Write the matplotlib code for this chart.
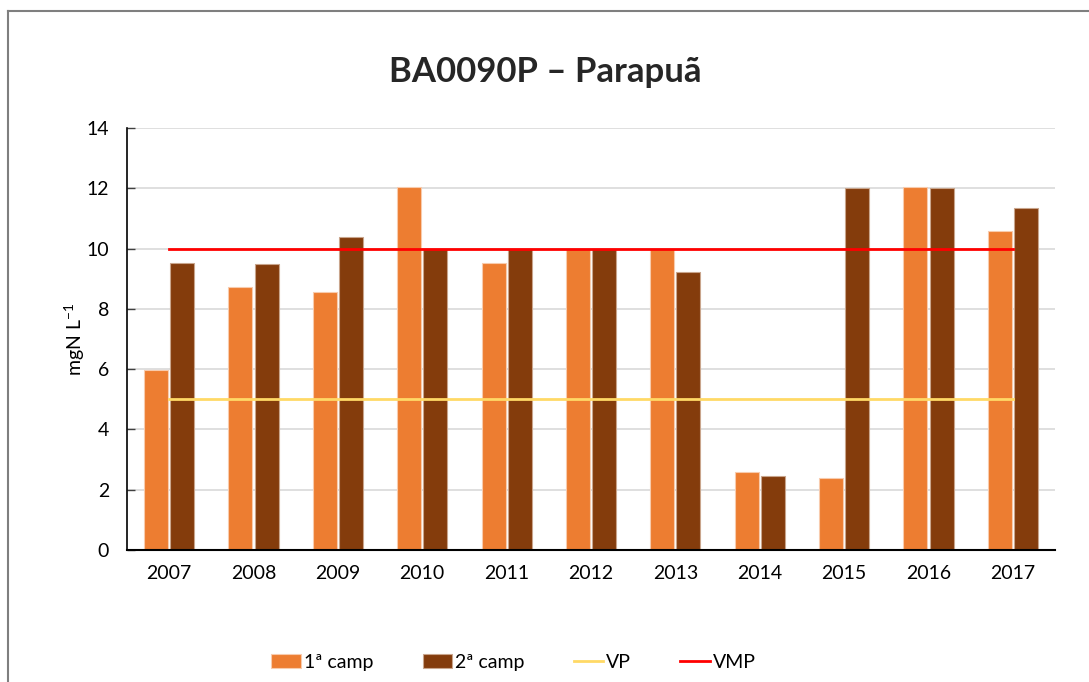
import matplotlib
matplotlib.use("Agg")
import matplotlib.pyplot as plt
import numpy as np
from matplotlib.lines import Line2D

plt.rcParams['font.family'] = ['Lato', 'DejaVu Sans']
plt.rcParams['mathtext.fontset'] = 'custom'
plt.rcParams['mathtext.rm'] = 'Lato'
plt.rcParams['mathtext.default'] = 'regular'

# Data
years = ['2007', '2008', '2009', '2010', '2011', '2012', '2013', '2014', '2015', '2016', '2017']
camp1 = [5.97, 8.74, 8.55, 12.03, 9.51, 10.0, 10.0, 2.60, 2.39, 12.03, 10.6]
camp2 = [9.53, 9.49, 10.40, 10.0, 10.0, 10.0, 9.23, 2.47, 12.0, 12.0, 11.33]
vp = [5] * len(years)
vmp = [10] * len(years)

c1_color = '#ED7D31'
c2_color = '#843C0C'

fig = plt.figure(figsize=(10.89, 6.82), dpi=100)
ax = fig.add_axes([0.1166, 0.1935, 0.8522, 0.6188])

x = np.arange(len(years))
w = 0.285
off = 0.155
b1 = ax.bar(x - off, camp1, width=w, color=c1_color, edgecolor='#F8CBAD', linewidth=0.8,
            label='1ª camp', zorder=2)
b2 = ax.bar(x + off, camp2, width=w, color=c2_color, edgecolor='#C9A58C', linewidth=0.8,
            label='2ª camp', zorder=2)
l1, = ax.plot(x, vp, color='#FFD966', linewidth=2.0, label='VP', zorder=3)
l2, = ax.plot(x, vmp, color='#FF0000', linewidth=2.0, label='VMP', zorder=3)

ax.set_xlim(-0.5, len(years) - 0.5)
ax.set_ylim(0, 14)
ax.set_yticks(range(0, 15, 2))
ax.set_xticks(x)
ax.set_xticklabels(years)
ax.tick_params(axis='x', length=0, pad=11, labelsize=14)
ax.tick_params(axis='y', direction='in', length=6, width=1, color='#404040', pad=13,
               labelsize=14)
ax.grid(axis='y', color='#D9D9D9', linewidth=1.2, zorder=0)
ax.set_axisbelow(True)
for s in ['top', 'right']:
    ax.spines[s].set_visible(False)
ax.spines['left'].set_color('black')
ax.spines['bottom'].set_color('black')
ax.spines['left'].set_linewidth(1.2)
ax.spines['bottom'].set_linewidth(1.5)

ax.set_ylabel('mgN L$^{-1}$', fontsize=14)
ax.yaxis.set_label_coords(-0.043, 0.5)

fig.text(0.5005, 0.894, 'BA0090P – Parapuã', ha='center', va='center',
         fontsize=25, fontweight='bold', color='#262626')

fig.legend(handles=[b1, b2, l1, l2], loc='center', bbox_to_anchor=(0.4715, 0.029), ncol=4,
           frameon=False, fontsize=14, handlelength=1.5, handleheight=0.7,
           handletextpad=0.15, columnspacing=2.55)

# outer chart frame (only top and left edges are visible in the crop)
fig.add_artist(Line2D([8 / 1089, 8 / 1089], [0, 1 - 11 / 682], transform=fig.transFigure,
                      color='#7F7F7F', linewidth=1.5))
fig.add_artist(Line2D([8 / 1089, 1], [1 - 11 / 682, 1 - 11 / 682], transform=fig.transFigure,
                      color='#7F7F7F', linewidth=1.5))

fig.savefig('out.png', dpi=100)
